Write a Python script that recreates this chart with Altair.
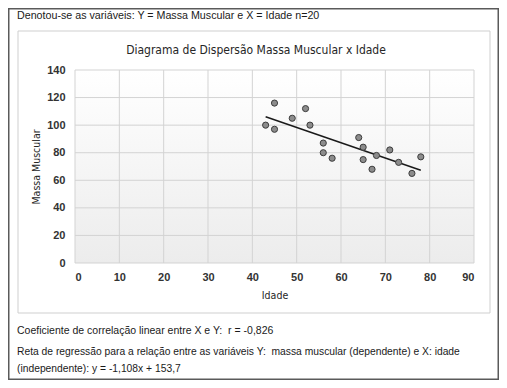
import altair as alt
import pandas as pd

# ---- data ----
idade = [43, 45, 45, 49, 52, 53, 56, 56, 58, 64, 65, 65, 67, 68, 71, 73, 76, 78]
massa = [100, 116, 97, 105, 112, 100, 87, 80, 76, 91, 84, 75, 68, 78, 82, 73, 65, 77]
slope = -1.108
intercept = 153.7
x_ticks = [0, 10, 20, 30, 40, 50, 60, 70, 80, 90]
y_ticks = [0, 20, 40, 60, 80, 100, 120, 140]

NB = "\u00a0"
title_text = "Diagrama de Dispersão Massa Muscular x Idade"
top_text = "Denotou-se as variáveis: Y = Massa Muscular e X = Idade n=20"
corr_text = "Coeficiente de correlação linear entre X e Y:" + NB + NB + "r = -0,826"
reg_text1 = "Reta de regressão para a relação entre as variáveis Y:" + NB + NB + "massa muscular (dependente) e X: idade"
reg_text2 = "(independente): y = -1,108x + 153,7"

W, H = 399, 193
PL, PT = 67, 62
TOTW, TOTH = 491, 372

pts = pd.DataFrame({"Idade": idade, "Massa": massa})
line_df = pd.DataFrame({"Idade": [min(idade), max(idade)]})
xt = pd.DataFrame({"Idade": x_ticks})
yt = pd.DataFrame({"Massa": y_ticks})
one = pd.DataFrame({"d": [0]})

xs = alt.Scale(domain=[0, 90], nice=False)
ys = alt.Scale(domain=[0, 140], nice=False)

FONT_TXT = "Liberation Sans, Arial, sans-serif"
FONT_NARROW = "DejaVu Sans Condensed, Roboto Condensed, Roboto, sans-serif"

axis_common = dict(domain=False, ticks=False, grid=False, labelFont=FONT_TXT,
                   labelFontSize=11, labelColor="#333333", labelFontWeight="bold",
                   titleFont=FONT_NARROW, titleFontSize=10.5, titleColor="#262626",
                   titleFontWeight="normal")
x_axis = alt.Axis(values=x_ticks, title="Idade", labelPadding=8, titlePadding=8, **axis_common)
y_axis = alt.Axis(values=y_ticks, title="Massa Muscular", labelPadding=10, titlePadding=5, **axis_common)

outer = alt.Chart(one).mark_rect(filled=False, stroke="#5a5a5a", strokeWidth=1.5).encode(
    x=alt.value(-PL + 0.75), x2=alt.value(TOTW - PL - 0.75),
    y=alt.value(-PT + 0.75), y2=alt.value(TOTH - PT - 0.75))

inner = alt.Chart(one).mark_rect(filled=False, stroke="#cfcfcf", strokeWidth=1).encode(
    x=alt.value(18 - 75), x2=alt.value(490 - 75),
    y=alt.value(31 - 70), y2=alt.value(313 - 70))

bg = alt.Chart(one).mark_rect(
    color=alt.LinearGradient(gradient="linear", x1=0, x2=0, y1=0, y2=1,
                             stops=[alt.GradientStop(color="#ffffff", offset=0),
                                    alt.GradientStop(color="#ececec", offset=1)])
).encode(x=alt.value(0), x2=alt.value(W), y=alt.value(0), y2=alt.value(H))

vgrid = alt.Chart(xt).mark_rule(color="#d3d3d3", strokeWidth=1).encode(
    x=alt.X("Idade:Q", scale=xs, axis=x_axis), y=alt.value(0), y2=alt.value(H))
hgrid = alt.Chart(yt).mark_rule(color="#d3d3d3", strokeWidth=1).encode(
    y=alt.Y("Massa:Q", scale=ys, axis=y_axis), x=alt.value(0), x2=alt.value(W))

line = alt.Chart(line_df).transform_calculate(
    Massa=f"{slope} * datum.Idade + {intercept}"
).mark_line(color="#1a1a1a", strokeWidth=1.5).encode(
    x=alt.X("Idade:Q", scale=xs, axis=x_axis), y=alt.Y("Massa:Q", scale=ys, axis=y_axis))

points = alt.Chart(pts).mark_circle(size=38, color="#8c8c8c", stroke="#3c3c3c",
                                    strokeWidth=1, opacity=1).encode(
    x=alt.X("Idade:Q", scale=xs, axis=x_axis),
    y=alt.Y("Massa:Q", scale=ys, axis=y_axis))


def txt(s, x, y, size, font, align="left", color="#1a1a1a"):
    return alt.Chart(pd.DataFrame({"t": [s]})).mark_text(
        align=align, baseline="alphabetic", font=font, fontSize=size, color=color
    ).encode(text="t:N", x=alt.value(x), y=alt.value(y))


title = txt(title_text, 256 - 75, 54 - 70, 12, FONT_NARROW, align="center", color="#262626")
t_top = txt(top_text, 17 - 75, 19 - 70, 10.7, FONT_TXT)
t_corr = txt(corr_text, 17 - 75, 334 - 70, 10.5, FONT_TXT)
t_reg1 = txt(reg_text1, 17 - 75, 355 - 70, 10.3, FONT_TXT)
t_reg2 = txt(reg_text2, 17 - 75, 372 - 70, 10.3, FONT_TXT)

chart = alt.layer(outer, inner, bg, vgrid, hgrid, line, points,
                  title, t_top, t_corr, t_reg1, t_reg2).properties(
    width=W, height=H,
    padding={"left": PL, "top": PT, "right": TOTW - PL - W, "bottom": TOTH - PT - H},
    autosize=alt.AutoSizeParams(type="none"),
    background="white",
).configure_view(stroke=None)

chart.save("out.html", embed_options={"renderer": "svg", "actions": False})
